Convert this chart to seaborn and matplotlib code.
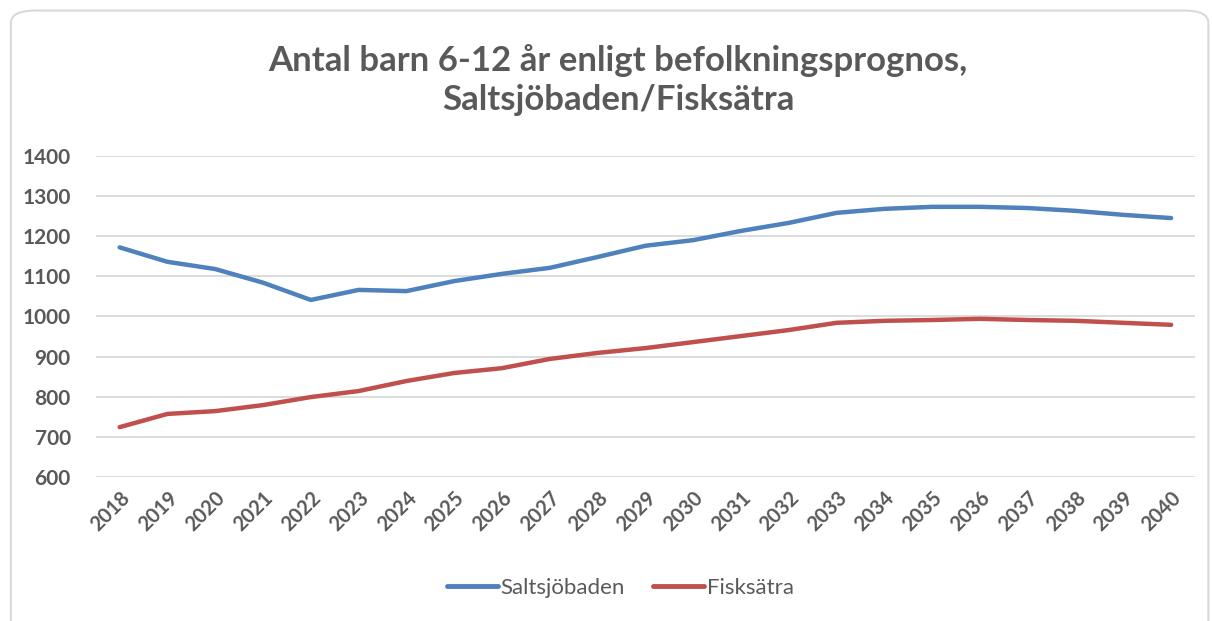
import numpy as np
import pandas as pd
import seaborn as sns
import matplotlib.pyplot as plt
from matplotlib.patches import FancyBboxPatch

# Values
years = list(range(2018, 2041))
saltsjobaden = [1172, 1136, 1118, 1084, 1041, 1066, 1063, 1088, 1106, 1121, 1148,
                1176, 1190, 1213, 1233, 1258, 1268, 1273, 1273, 1270, 1263, 1253, 1245]
fisksatra = [724, 757, 764, 779, 799, 814, 839, 859, 871, 894, 909,
             921, 936, 951, 966, 984, 989, 991, 994, 991, 989, 984, 979]
series_names = ['Saltsjöbaden', 'Fisksätra']
series_colors = ['#4F81BD', '#C0504D']

df = pd.DataFrame({'year': years * 2,
                   'antal': saltsjobaden + fisksatra,
                   'omrade': [series_names[0]] * len(years) + [series_names[1]] * len(years)})

sns.set_style('white')
plt.rcParams['font.family'] = ['Lato', 'DejaVu Sans']
text_col = '#595959'

fig = plt.figure(figsize=(12.12, 6.21), dpi=100)
ax = fig.add_axes([0.079, 0.232, 0.907, 0.517])

sns.lineplot(data=df, x='year', y='antal', hue='omrade', palette=series_colors,
             linewidth=3.2, ax=ax, legend=True)

ax.set_xlim(years[0] - 0.5, years[-1] + 0.5)
ax.set_ylim(600, 1400)
ax.set_yticks(range(600, 1401, 100))
ax.set_xticks(years)
ax.set_xticklabels([str(y) for y in years], rotation=45, ha='right', va='top',
                   rotation_mode='anchor', fontsize=14.5, fontweight='bold', color=text_col)
ax.set_yticklabels([str(v) for v in range(600, 1401, 100)], fontsize=15,
                   fontweight='bold', color=text_col)
ax.tick_params(axis='y', length=0, pad=18)
ax.tick_params(axis='x', length=0, pad=8)
ax.grid(axis='y', color='#D9D9D9', linewidth=1.3)
ax.set_axisbelow(True)
for s in ax.spines.values():
    s.set_visible(False)
ax.set_xlabel('')
ax.set_ylabel('')

leg = ax.legend(loc='center', bbox_to_anchor=(0.477, -0.346), ncol=2, frameon=False,
                fontsize=16, handlelength=2.3, handletextpad=0.1, columnspacing=1.3)
for t in leg.get_texts():
    t.set_color(text_col)
for h in leg.get_lines():
    h.set_linewidth(3.5)

fig.text(0.51, 0.871, 'Antal barn 6-12 år enligt befolkningsprognos,\nSaltsjöbaden/Fisksätra',
         ha='center', va='center', fontsize=25, fontweight='bold', color=text_col,
         linespacing=1.25)

# rounded chart-area border
border = FancyBboxPatch((0.009, -0.02), 0.988, 1.003, transform=fig.transFigure,
                        boxstyle='round,pad=0,rounding_size=0.02',
                        facecolor='none', edgecolor='#D9D9D9', linewidth=1.5)
fig.patches.append(border)

fig.savefig('out.png', dpi=100)
